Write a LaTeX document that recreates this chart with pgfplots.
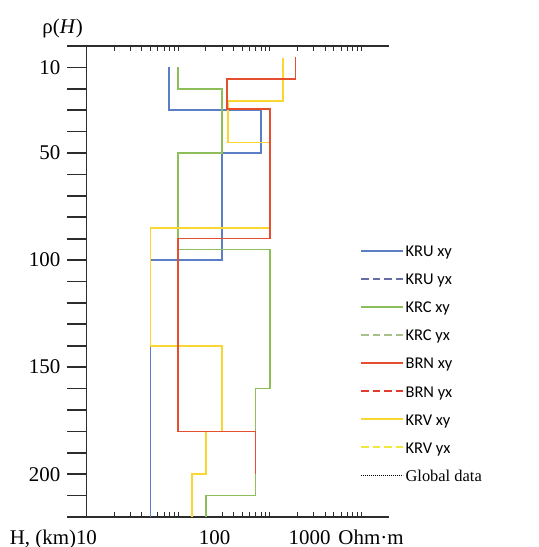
\documentclass[border=0pt]{standalone}
\usepackage{fontspec}
\setmainfont{Liberation Serif}
\newfontfamily\carlito{Carlito}
\usepackage{pgfplots}
\pgfplotsset{compat=1.18}
\definecolor{cKRU}{RGB}{92,126,196}
\definecolor{cKRUyx}{RGB}{100,110,165}
\definecolor{cKRC}{RGB}{141,190,90}
\definecolor{cKRCyx}{RGB}{168,192,140}
\definecolor{cBRN}{RGB}{230,78,48}
\definecolor{cBRNyx}{RGB}{225,60,45}
\definecolor{cKRV}{RGB}{250,214,50}
\definecolor{cKRVyx}{RGB}{240,232,60}
\definecolor{axc}{RGB}{45,45,45}
\begin{document}
\begin{tikzpicture}
\path[use as bounding box] (-237.75bp,-265.5bp) rectangle (301.25bp,281.5bp);
% y ticks (outside)
\begin{axis}[
  at={(0,0)}, anchor=center,
  scale only axis, width=302.5bp, height=471bp,
  xmode=log, xmin=10, xmax=20000,
  ymin=0, ymax=220, y dir=reverse,
  hide x axis, axis y line*=left,
  axis line style={draw=axc, line width=1.6bp, -},
  ytick={0,10,...,220},
  yticklabels={,10,,,,50,,,,,100,,,,,150,,,,,200,,},
  tick align=outside, major tick length=19.5bp,
  tick style={draw=axc, line width=1.7bp},
  ytick pos=left,
  yticklabel style={font=\fontsize{21}{25}\selectfont, anchor=east, inner sep=0pt, xshift=-6.5bp},
]
\addplot[draw=none] coordinates {(10,0)};
\end{axis}
% data axis
\begin{axis}[
  at={(0,0)}, anchor=center,
  scale only axis, width=302.5bp, height=471bp,
  xmode=log, xmin=10, xmax=20000,
  ymin=0, ymax=220, y dir=reverse,
  clip=false,
  separate axis lines, axis x line*=box, axis y line*=left,
  axis line style={draw=axc, line width=1.6bp, -},
  xtick={20,30,40,50,60,70,80,90,100,200,300,400,500,600,700,800,900,1000,2000,3000,4000,5000,6000,7000,8000,9000,10000},
  xticklabels={},
  xtick pos=both, tick align=inside, major tick length=5bp,
  tick style={draw=axc, line width=0.7bp},
  ytick=\empty,
  extra x ticks={10,250,2716},
  extra x tick labels={{\llap{H, (km)}10},{100},{1000\rlap{\hspace{8bp}Ohm·m}}},
  extra x tick style={major tick length=0pt},
  xticklabel pos=lower,
  xticklabel style={font=\fontsize{21}{25}\selectfont, anchor=base, yshift=-27bp},
  legend style={at={(axis description cs:0.904,0.581)}, anchor=north west, draw=none, fill=none,
    inner sep=0pt, row sep=13.3bp, column sep=0pt, nodes={inner sep=0pt, inner xsep=1bp},
    font=\carlito\fontsize{16.5}{19}\selectfont},
  legend cell align=left,
  legend image code/.code={\draw[#1] (0bp,0bp) -- (42bp,0bp);},
]
\addplot[cKRU, line width=1.6bp, forget plot] coordinates {(80,10) (80,30) (800,30) (800,50) (300,50) (300,100) (50,100) (50,220)};
\addplot[cKRC, line width=1.6bp, forget plot] coordinates {(100,10) (100,20) (300,20) (300,50) (100,50) (100,95) (1000,95) (1000,160) (700,160) (700,210) (200,210) (200,220)};
\addplot[cKRV, line width=1.6bp, forget plot] coordinates {(1400,5.6) (1400,25.6) (350,25.6) (350,45) (1000,45) (1000,85) (50,85) (50,140) (300,140) (300,180) (200,180) (200,200) (142,200) (142,220)};
\addplot[cBRN, line width=1.6bp, forget plot] coordinates {(1900,5.1) (1900,15.4) (340,15.4) (340,29.4) (1000,29.4) (1000,90) (100,90) (100,180) (700,180) (700,200)};
\addlegendimage{cKRU, line width=2.4bp}
\addlegendentry{\strut KRU xy}
\addlegendimage{cKRUyx, line width=2.4bp, dash pattern=on 7.5bp off 4bp}
\addlegendentry{\strut KRU yx}
\addlegendimage{cKRC, line width=2.4bp}
\addlegendentry{\strut KRC xy}
\addlegendimage{cKRCyx, line width=2.4bp, dash pattern=on 7.5bp off 4bp}
\addlegendentry{\strut KRC yx}
\addlegendimage{cBRN, line width=2.4bp}
\addlegendentry{\strut BRN xy}
\addlegendimage{cBRNyx, line width=2.4bp, dash pattern=on 7.5bp off 4bp}
\addlegendentry{\strut BRN yx}
\addlegendimage{cKRV, line width=2.4bp}
\addlegendentry{\strut KRV xy}
\addlegendimage{cKRVyx, line width=2.4bp, dash pattern=on 7.5bp off 4bp}
\addlegendentry{\strut KRV yx}
\addlegendimage{black, line width=0.6bp, dash pattern=on 1bp off 1bp}
\addlegendentry{{\rmfamily\fontsize{16.5}{19}\selectfont\strut Global data}}
\node[font=\fontsize{21}{25}\selectfont] at (axis description cs:-0.079,1.038) {ρ(\textit{H})};
\end{axis}
\end{tikzpicture}
\end{document}
